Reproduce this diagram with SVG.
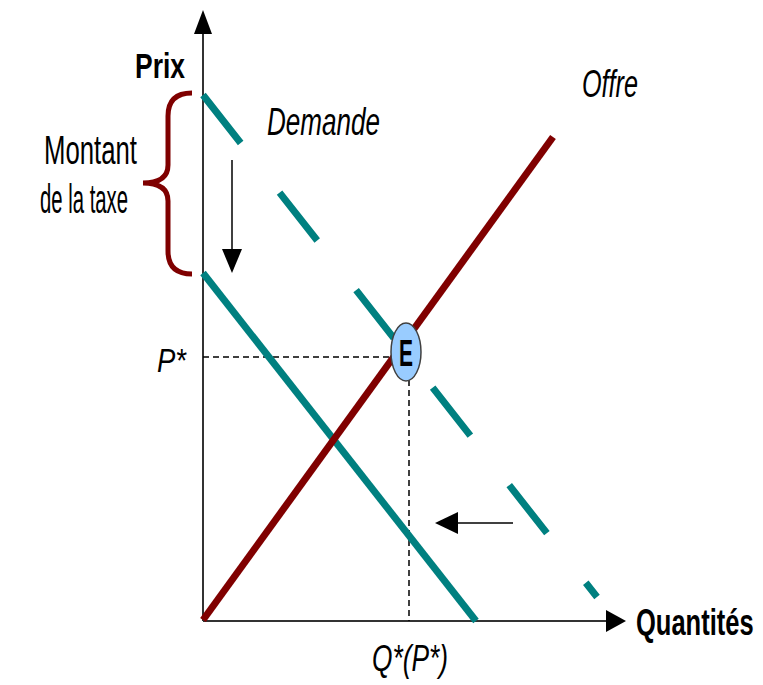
<svg xmlns="http://www.w3.org/2000/svg" width="763" height="685" viewBox="0 0 763 685">
<style>
.t{font-family:"Liberation Sans",Arial,sans-serif;fill:#000}
.it{font-style:italic}
.b{font-weight:bold}
.axis{stroke:#333;stroke-width:2;fill:none}
.dash{stroke:#000;stroke-width:1.5;stroke-dasharray:6 4;fill:none}
.arr{stroke:#000;stroke-width:1.5;fill:none}
</style>
<rect width="763" height="685" fill="#fff"/>
<g id="axes">
<line class="axis" x1="203" y1="621" x2="203" y2="30"/>
<polygon points="203,10 194,34 212,34" fill="#000"/>
<line class="axis" x1="203" y1="621" x2="608" y2="621"/>
<polygon points="626,621 606,610 606,632" fill="#000"/>
</g>
<g id="guides">
<line class="dash" x1="203" y1="357" x2="392" y2="357"/>
<line class="dash" x1="409" y1="380" x2="409" y2="621"/>
</g>
<g id="curves">
<line x1="203" y1="95" x2="597" y2="597" stroke="#008080" stroke-width="7" stroke-dasharray="61 63"/>
<line x1="203" y1="273" x2="476" y2="621" stroke="#008080" stroke-width="7"/>
<line x1="203" y1="620" x2="553" y2="137" stroke="#800000" stroke-width="7"/>
</g>
<g id="brace">
<path d="M192,93 Q168,93 168,116 L168,165 Q168,183 143,183 Q168,183 168,201 L168,251 Q168,274 192,274" stroke="#7f0000" stroke-width="5" fill="none"/>
</g>
<g id="shift-arrows">
<line class="arr" x1="232" y1="160" x2="232" y2="252"/>
<polygon points="232,273 222,249 242,249" fill="#000"/>
<line class="arr" x1="513" y1="523" x2="455" y2="523"/>
<polygon points="435,523 458,512 458,534" fill="#000"/>
</g>
<g id="E">
<ellipse cx="406" cy="352" rx="15" ry="29" fill="#99ccff" stroke="#404040" stroke-width="1.5"/>
<text class="t b" x="399" y="366" font-size="36" textLength="14" lengthAdjust="spacingAndGlyphs">E</text>
</g>
<g id="labels">
<text class="t b" x="135" y="78" font-size="35" textLength="50" lengthAdjust="spacingAndGlyphs">Prix</text>
<text class="t it" x="267" y="135" font-size="38" textLength="113" lengthAdjust="spacingAndGlyphs">Demande</text>
<text class="t it" x="582" y="97" font-size="39" textLength="56" lengthAdjust="spacingAndGlyphs">Offre</text>
<text class="t" x="44" y="164" font-size="41" textLength="93" lengthAdjust="spacingAndGlyphs">Montant</text>
<text class="t" x="40" y="213" font-size="41" textLength="88" lengthAdjust="spacingAndGlyphs">de la taxe</text>
<text class="t it" x="157" y="372" font-size="33" textLength="29" lengthAdjust="spacingAndGlyphs">P*</text>
<text class="t it" x="372" y="671" font-size="36" textLength="76" lengthAdjust="spacingAndGlyphs">Q*(P*)</text>
<text class="t b" transform="translate(636,635) scale(0.69,1)" font-size="37">Quantités</text>
</g>
</svg>
